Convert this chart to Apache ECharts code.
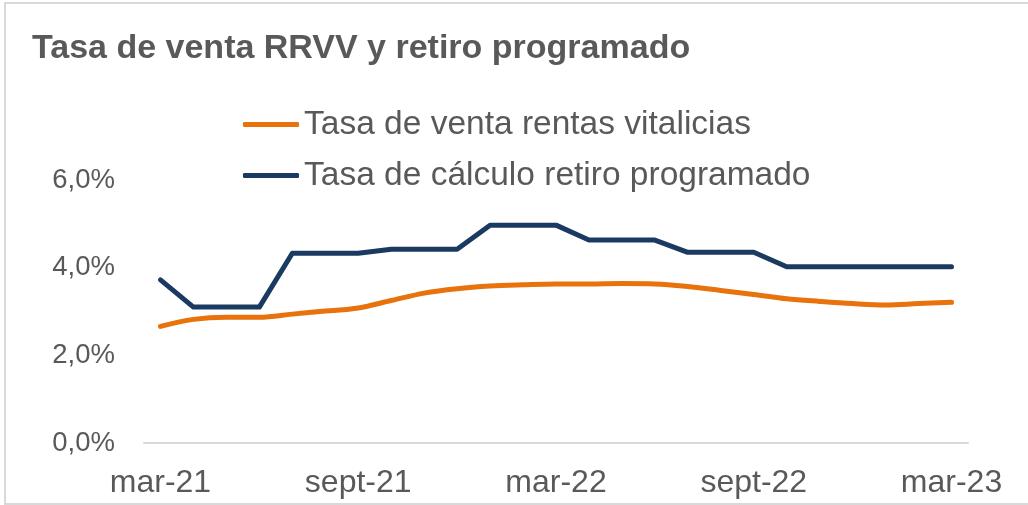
<!DOCTYPE html>
<html>
<head>
<meta charset="utf-8">
<script src="https://cdn.jsdelivr.net/npm/echarts@6/dist/echarts.min.js"></script>
<style>
  html, body { margin: 0; padding: 0; background: #fff; }
  #chart { width: 1028px; height: 505px; }
</style>
</head>
<body>
<div id="chart"></div>
<script>
var months = ['mar-21', 'abr-21', 'may-21', 'jun-21', 'jul-21', 'ago-21', 'sept-21', 'oct-21', 'nov-21', 'dic-21', 'ene-22', 'feb-22',
  'mar-22', 'abr-22', 'may-22', 'jun-22', 'jul-22', 'ago-22', 'sept-22', 'oct-22', 'nov-22', 'dic-22', 'ene-23', 'feb-23', 'mar-23'];

// tasa de venta rentas vitalicias (%)
var tasaRentas = [2.66, 2.82, 2.87, 2.87, 2.94, 3.01, 3.08, 3.25, 3.42, 3.52, 3.58, 3.61,
  3.63, 3.63, 3.64, 3.63, 3.57, 3.48, 3.39, 3.29, 3.23, 3.18, 3.15, 3.18, 3.21];

// tasa de calculo retiro programado (%)
var tasaRetiro = [3.72, 3.10, 3.10, 3.10, 4.33, 4.33, 4.33, 4.42, 4.42, 4.42, 4.97, 4.97,
  4.97, 4.63, 4.63, 4.63, 4.35, 4.35, 4.35, 4.02, 4.02, 4.02, 4.02, 4.02, 4.02];

var seriesNames = ['Tasa de venta rentas vitalicias', 'Tasa de cálculo retiro programado'];

var chart = echarts.init(document.getElementById('chart'));

var option = {
  animation: false,
  title: {
    text: 'Tasa de venta RRVV y retiro programado',
    left: 27,
    top: 27,
    textStyle: { fontFamily: 'Liberation Sans', fontWeight: 'bold', fontSize: 34, color: '#595959' }
  },
  graphic: [{
    type: 'rect',
    silent: true,
    shape: { x: 5, y: 3, width: 1040, height: 501 },
    style: { fill: 'none', stroke: '#d9d9d9', lineWidth: 2 }
  }],
  legend: {
    orient: 'vertical',
    left: 243,
    top: 106,
    padding: 0,
    icon: 'roundRect',
    itemWidth: 56,
    itemHeight: 5,
    itemGap: 14,
    textStyle: { fontFamily: 'Liberation Sans', fontSize: 33.5, color: '#595959', lineHeight: 37 },
    data: seriesNames
  },
  grid: { left: 144, right: 60, top: 180, bottom: 62, containLabel: false },
  xAxis: {
    type: 'category',
    boundaryGap: true,
    data: months,
    axisLine: { lineStyle: { color: '#d9d9d9', width: 2 } },
    axisTick: { interval: 5, length: 10, lineStyle: { color: '#d9d9d9', width: 2 } },
    axisLabel: { interval: 5, margin: 24, fontFamily: 'Liberation Sans', fontSize: 32, color: '#595959' }
  },
  yAxis: {
    type: 'value',
    min: 0,
    max: 6,
    interval: 2,
    splitLine: { show: false },
    axisLine: { show: false },
    axisTick: { show: false },
    axisLabel: {
      margin: 29,
      fontFamily: 'Liberation Sans',
      fontSize: 27.5,
      color: '#595959',
      formatter: function (v) { return v.toFixed(1).replace('.', ',') + '%'; }
    }
  },
  series: [
    {
      name: seriesNames[0],
      type: 'line',
      data: tasaRentas,
      smooth: 0.35,
      symbol: 'none',
      lineStyle: { color: '#e8720c', width: 5, cap: 'round', join: 'round' },
      itemStyle: { color: '#e8720c' }
    },
    {
      name: seriesNames[1],
      type: 'line',
      data: tasaRetiro,
      symbol: 'none',
      lineStyle: { color: '#1b3a61', width: 5, cap: 'round', join: 'round' },
      itemStyle: { color: '#1b3a61' }
    }
  ]
};

chart.setOption(option);
</script>
</body>
</html>
